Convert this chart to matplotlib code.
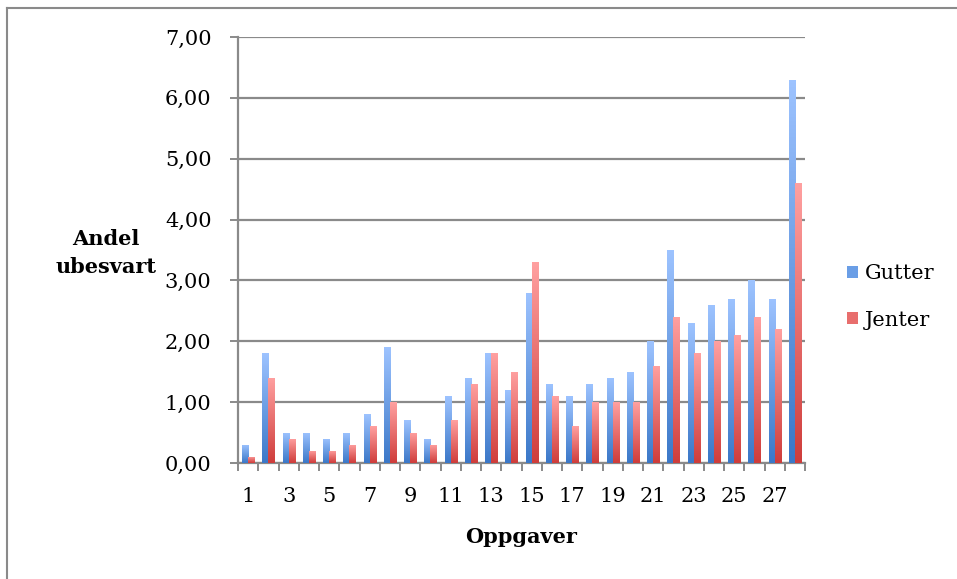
import numpy as np
import matplotlib.pyplot as plt
from matplotlib.colors import LinearSegmentedColormap
from matplotlib.lines import Line2D
from matplotlib.patches import Patch

oppgaver = list(range(1, 29))
gutter = [0.3, 1.8, 0.5, 0.5, 0.4, 0.5, 0.8, 1.9, 0.7, 0.4,
          1.1, 1.4, 1.8, 1.2, 2.8, 1.3, 1.1, 1.3, 1.4, 1.5,
          2.0, 3.5, 2.3, 2.6, 2.7, 3.0, 2.7, 6.3]
jenter = [0.1, 1.4, 0.4, 0.2, 0.2, 0.3, 0.6, 1.0, 0.5, 0.3,
          0.7, 1.3, 1.8, 1.5, 3.3, 1.1, 0.6, 1.0, 1.0, 1.0,
          1.6, 2.4, 1.8, 2.0, 2.1, 2.4, 2.2, 4.6]
yticks = [0, 1, 2, 3, 4, 5, 6, 7]

plt.rcParams['font.family'] = ['DejaVu Serif']

blue_cm = LinearSegmentedColormap.from_list("b", ["#3b78c8", "#9dc3ff"])
red_cm = LinearSegmentedColormap.from_list("r", ["#cf3d3b", "#ffa0a0"])

fig = plt.figure(figsize=(9.57, 5.79), dpi=100)
ax = fig.add_axes([238 / 957, 1 - 463 / 579, 567 / 957, 426 / 579])

x = np.arange(len(oppgaver))
w = 0.3
grad = np.linspace(0, 1, 100).reshape(-1, 1)


def gradient_bars(xpos, vals, cmap, base):
    bars = ax.bar(xpos, vals, w, color=base, zorder=3)
    for b in bars:
        bx, by, bw, bh = b.get_x(), b.get_y(), b.get_width(), b.get_height()
        im = ax.imshow(grad, cmap=cmap, origin="lower", aspect="auto",
                       extent=[bx, bx + bw, by, by + bh], zorder=3.5)
        im.set_clip_path(b)
    return bars


gradient_bars(x - w / 2, gutter, blue_cm, "#6a9ee6")
gradient_bars(x + w / 2, jenter, red_cm, "#e86e6d")

ax.set_xlim(-0.5, len(oppgaver) - 0.5)
ax.set_ylim(0, 7)
ax.set_yticks(yticks)
ax.set_yticklabels([f"{v:.2f}".replace(".", ",") for v in yticks], fontsize=15)
ax.yaxis.grid(True, color="#8a8a8a", linewidth=1.6, zorder=0)
ax.set_axisbelow(True)

ax.set_xticks(x[::2])
ax.set_xticklabels([str(o) for o in oppgaver[::2]], fontsize=15)
ax.set_xticks(np.arange(-0.5, len(oppgaver)), minor=True)
ax.tick_params(axis="x", which="major", length=0, pad=17)
ax.tick_params(axis="x", which="minor", length=6, width=1.4, color="#8a8a8a")
ax.tick_params(axis="y", length=6, width=1.4, color="#8a8a8a", pad=13)

for s in ["top", "right"]:
    ax.spines[s].set_visible(False)
for s in ["left", "bottom"]:
    ax.spines[s].set_color("#8a8a8a")
    ax.spines[s].set_linewidth(1.6)

fig.text(521 / 957, 1 - 537 / 579, "Oppgaver", ha="center", va="center",
         fontsize=15, fontweight="bold")
fig.text(106 / 957, 1 - 253 / 579, "Andel\nubesvart", ha="center", va="center",
         fontsize=15, fontweight="bold", linespacing=1.55)

handles = [Patch(facecolor="#6a9ee6"), Patch(facecolor="#e86e6d")]
fig.legend(handles, ["Gutter", "Jenter"], loc="center left",
           bbox_to_anchor=(847 / 957, 1 - 297 / 579), frameon=False,
           borderpad=0, borderaxespad=0,
           fontsize=15, handlelength=0.55, handleheight=0.55,
           handletextpad=0.3, labelspacing=1.3)

fig.add_artist(Line2D([7 / 957, 7 / 957], [0, 1 - 8 / 579],
                      color="#8a8a8a", linewidth=1.5))
fig.add_artist(Line2D([7 / 957, 1], [1 - 8 / 579, 1 - 8 / 579],
                      color="#8a8a8a", linewidth=1.5))

fig.savefig("out.png", dpi=100)
